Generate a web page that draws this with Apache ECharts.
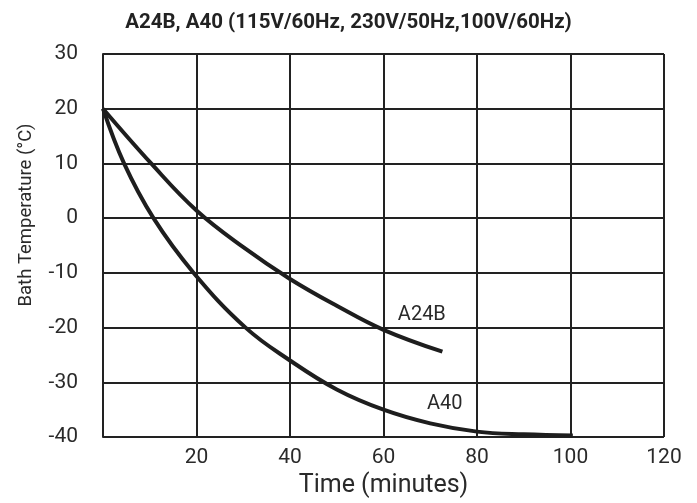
<!DOCTYPE html>
<html>
<head>
<meta charset="utf-8">
<script src="https://cdn.jsdelivr.net/npm/echarts@6/dist/echarts.min.js"></script>
<style>
html,body{margin:0;padding:0;background:#fff;}
#chart{width:697px;height:503px;}
</style>
</head>
<body>
<div id="chart"></div>
<script>
const titleText = 'A24B, A40 (115V/60Hz, 230V/50Hz,100V/60Hz)';
const xAxisName = 'Time (minutes)';
const yAxisName = 'Bath Temperature (°C)';
const seriesNames = ['A24B', 'A40'];
const timeA24B = [0, 10.3, 20, 30, 40, 50, 60, 72.6];
const tempA24B = [20, 10, 1.4, -5.3, -11.1, -16.0, -20.4, -24.4];
const timeA40 = [0, 4.5, 10.8, 19.4, 30.5, 40, 50, 60, 70, 80, 90, 100.5];
const tempA40 = [20, 10, 0, -10, -20, -26.0, -31.3, -35, -37.5, -39, -39.5, -39.7];
const labelA24B = [68.2, -17.7];
const labelA40 = [73.1, -33.9];

const FONT = "'Liberation Sans Narrow', 'Roboto', sans-serif";
const pair = (xs, ys) => xs.map((x, i) => [x, ys[i]]);

const chart = echarts.init(document.getElementById('chart'), null, {renderer: 'canvas'});
const lineStyle = {color: '#1e1e1e', width: 4};
const labelStyle = {show: true, formatter: '{b}', color: '#2a2a2a', fontSize: 20, fontFamily: FONT, position: 'inside'};
chart.setOption({
  animation: false,
  backgroundColor: '#fff',
  title: {
    text: titleText, left: 'center', top: 7,
    textStyle: {fontFamily: FONT, fontWeight: 'bold', fontSize: 20.5, color: '#222'}
  },
  grid: {left: 103, right: 33, top: 54, bottom: 62},
  xAxis: {
    type: 'value', min: 0, max: 120, interval: 20,
    name: xAxisName, nameLocation: 'middle', nameGap: 34,
    nameTextStyle: {fontFamily: FONT, fontSize: 25, color: '#2a2a2a'},
    axisLine: {show: true, lineStyle: {color: '#222', width: 2}},
    axisTick: {show: false},
    axisLabel: {showMinLabel: false, fontFamily: FONT, fontSize: 21, color: '#2a2a2a', margin: 10},
    splitLine: {show: true, lineStyle: {color: '#222', width: 2}}
  },
  yAxis: {
    type: 'value', min: -40, max: 30, interval: 10,
    axisLine: {show: true, lineStyle: {color: '#222', width: 2}},
    axisTick: {show: false},
    axisLabel: {fontFamily: FONT, fontSize: 21, color: '#2a2a2a', margin: 25, verticalAlign: 'middle', padding: [0, 0, 6, 0]},
    splitLine: {show: true, lineStyle: {color: '#222', width: 2}}
  },
  graphic: [{
    type: 'text',
    x: 26, y: 215, rotation: Math.PI / 2,
    style: {text: yAxisName, fontFamily: FONT, fontSize: 18.5, fill: '#2a2a2a', textAlign: 'center', textVerticalAlign: 'middle'}
  }],
  series: [{
    name: seriesNames[0], type: 'line', smooth: 0.4, showSymbol: false,
    data: pair(timeA24B, tempA24B), lineStyle: lineStyle,
    markPoint: {symbol: 'circle', symbolSize: 1, itemStyle: {color: 'transparent'},
      label: labelStyle, data: [{name: seriesNames[0], coord: labelA24B}]}
  }, {
    name: seriesNames[1], type: 'line', smooth: 0.4, showSymbol: false,
    data: pair(timeA40, tempA40), lineStyle: lineStyle,
    markPoint: {symbol: 'circle', symbolSize: 1, itemStyle: {color: 'transparent'},
      label: labelStyle, data: [{name: seriesNames[1], coord: labelA40}]}
  }]
});
</script>
</body>
</html>
